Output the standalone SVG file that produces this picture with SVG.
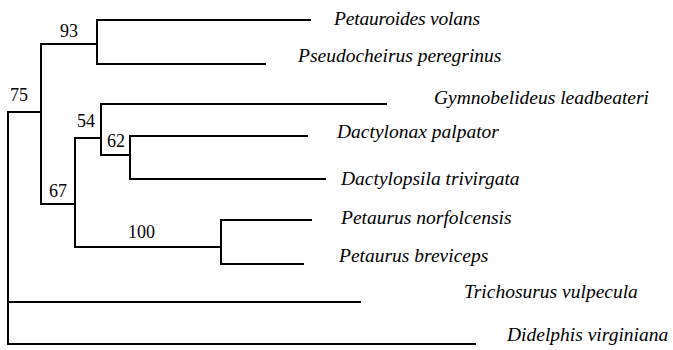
<svg xmlns="http://www.w3.org/2000/svg" width="673" height="350" viewBox="0 0 673 350">
<style>
.e{fill:none;stroke:#000;stroke-width:2;stroke-linecap:square}
.t{font-family:"Liberation Serif","Times New Roman",serif;font-style:italic;font-size:19.5px;fill:#000}
.n{font-family:"Liberation Serif","Times New Roman",serif;font-size:18px;fill:#000}
</style>
<rect width="673" height="350" fill="#fff"/>
<g id="connectors">
<path class="e" d="M41,112H8V344H475M8,302H360"/>
<path class="e" d="M97,44H41V204H75"/>
<path class="e" d="M310,20H97V64H265"/>
<path class="e" d="M101,138H75V247H221"/>
<path class="e" d="M386,104H101V155H130"/>
<path class="e" d="M307,136H130V179H325"/>
<path class="e" d="M311,220H221V264H303"/>
</g>
<g id="support">
<text class="n" x="60" y="37">93</text>
<text class="n" x="10" y="101">75</text>
<text class="n" x="77" y="127">54</text>
<text class="n" x="107" y="147">62</text>
<text class="n" x="49" y="197">67</text>
<text class="n" x="128" y="238">100</text>
</g>
<g id="petauroides"><text class="t" x="334" y="25" textLength="146" lengthAdjust="spacing">Petauroides volans</text></g>
<g id="pseudocheirus"><text class="t" x="298" y="62">Pseudocheirus peregrinus</text></g>
<g id="gymnobelideus"><text class="t" x="434" y="104">Gymnobelideus leadbeateri</text></g>
<g id="dactylonax"><text class="t" x="337" y="138">Dactylonax palpator</text></g>
<g id="dactylopsila"><text class="t" x="341" y="185">Dactylopsila trivirgata</text></g>
<g id="norfolcensis"><text class="t" x="341" y="224">Petaurus norfolcensis</text></g>
<g id="breviceps"><text class="t" x="339" y="262">Petaurus breviceps</text></g>
<g id="trichosurus"><text class="t" x="464" y="298">Trichosurus vulpecula</text></g>
<g id="didelphis"><text class="t" x="507" y="341">Didelphis virginiana</text></g>
</svg>
